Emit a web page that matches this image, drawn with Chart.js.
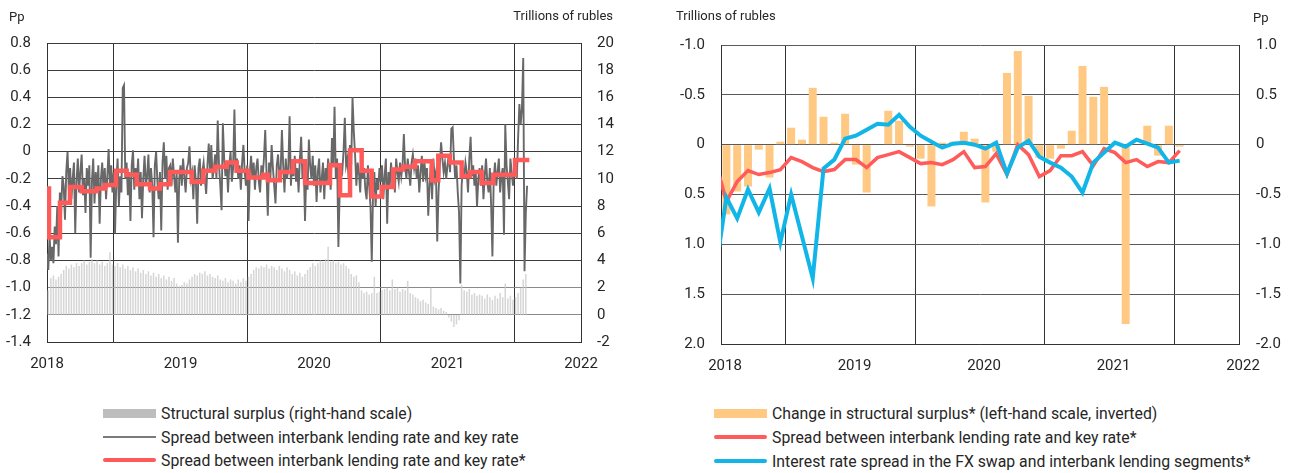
<!DOCTYPE html>
<html>
<head>
<meta charset="utf-8">
<script src="https://cdn.jsdelivr.net/npm/chart.js@4.4.1/dist/chart.umd.min.js"></script>
<style>
  body { margin: 0; background: #fff; width: 1296px; height: 473px; overflow: hidden; position: relative;
         font-family: Roboto, 'Open Sans', sans-serif; color: #262626; }
  .box { position: absolute; top: 0; width: 648px; height: 380px; }
  .unit { position: absolute; font-size: 13px; line-height: 16px; white-space: nowrap; }
  .legend { position: absolute; font-size: 15.8px; }
  .legend .row { position: absolute; left: 0; display: flex; align-items: center; height: 20px; white-space: nowrap; }
  .legend .sw { width: 53px; margin-right: 5px; }
</style>
</head>
<body>
<div class="box" style="left:0"><canvas id="left" width="648" height="380"></canvas></div>
<div class="box" style="left:648px"><canvas id="right" width="648" height="380"></canvas></div>

<div class="unit" style="left:9px;top:9px">Pp</div>
<div class="unit" style="right:683px;top:8px">Trillions of rubles</div>
<div class="unit" style="left:676px;top:8px">Trillions of rubles</div>
<div class="unit" style="left:1253px;top:10px">Pp</div>

<div class="legend" style="left:103px;top:0">
  <div class="row" style="top:403px"><span class="sw" style="height:9px;background:#bdbdbd"></span>Structural surplus (right-hand scale)</div>
  <div class="row" style="top:427px"><span class="sw" style="height:2px;background:#7a7a7a"></span>Spread between interbank lending rate and key rate</div>
  <div class="row" style="top:450px"><span class="sw" style="height:4px;background:#ff5a5a;border-radius:2px"></span>Spread between interbank lending rate and key rate*</div>
</div>
<div class="legend" style="left:714px;top:0">
  <div class="row" style="top:403px"><span class="sw" style="height:9px;background:#ffc983"></span>Change in structural surplus* (left-hand scale, inverted)</div>
  <div class="row" style="top:427px"><span class="sw" style="height:4px;background:#ff5b5b;border-radius:2px"></span>Spread between interbank lending rate and key rate*</div>
  <div class="row" style="top:451px"><span class="sw" style="height:4px;background:#12b5e8;border-radius:2px"></span>Interest rate spread in the FX swap and interbank lending segments*</div>
</div>

<script>
// ---- left panel data ----
// interbank spread, pp, sampled every 1/104 year from 2018.0
const SPREAD_START = 2018, SPREAD_STEP = 1 / 104;
const spreadDaily = [
  -0.75, -0.87, -0.62, -0.80, -0.70, -0.82, -0.55, -0.68, -0.40, -0.77, -0.30, -0.45, -0.18, -0.25, -0.50, -0.15, 0.00, -0.28, -0.12, -0.35, -0.20, -0.08, -0.60, -0.22, -0.05, -0.30,
  -0.15, -0.02, -0.32, -0.20, -0.45, -0.12, -0.25, -0.10, -0.78, -0.22, -0.05, -0.38, -0.15, -0.30, -0.10, -0.53, -0.20, -0.08, -0.28, -0.12, -0.35, -0.18, 0.02, -0.25, -0.10, -0.30,
  -0.15, -0.60, -0.22, -0.05, -0.40, -0.18, -0.30, 0.47, 0.49, -0.20, -0.08, -0.32, -0.15, -0.51, -0.10, 0.01, -0.28, -0.12, -0.22, -0.05, -0.35, -0.15, -0.49, -0.20, -0.03, -0.25,
  -0.18, -0.02, -0.30, -0.12, -0.25, -0.63, -0.10, 0.00, -0.22, -0.35, -0.15, -0.58, -0.08, 0.07, -0.20, -0.03, -0.28, -0.12, -0.10, -0.25, -0.05, -0.18, -0.30, -0.15, -0.67, -0.20,
  -0.10, -0.25, -0.05, -0.18, -0.30, -0.12, -0.08, 0.04, -0.20, -0.15, -0.35, -0.10, -0.22, -0.53, -0.12, -0.05, -0.25, -0.15, -0.08, -0.20, -0.31, -0.10, 0.06, -0.15, 0.05, -0.20,
  -0.12, -0.02, -0.20, 0.23, -0.10, -0.25, -0.43, 0.21, -0.05, -0.18, -0.08, -0.30, -0.10, 0.00, -0.22, -0.12, 0.31, -0.15, -0.05, -0.20, -0.10, -0.28, -0.08, 0.05, -0.15, -0.25,
  -0.10, -0.51, -0.15, -0.03, -0.20, -0.08, -0.28, -0.12, -0.05, -0.22, -0.30, -0.10, -0.18, -0.05, 0.16, -0.15, -0.47, -0.08, -0.20, 0.05, -0.12, -0.25, -0.38, -0.10, -0.02, -0.18,
  -0.15, 0.16, -0.10, -0.30, -0.05, -0.20, -0.12, 0.26, -0.25, -0.08, -0.18, -0.03, -0.22, -0.12, -0.30, -0.05, 0.11, -0.20, -0.10, -0.51, -0.15, -0.28, 0.09, -0.10, -0.20, -0.03,
  -0.25, -0.10, -0.37, -0.15, -0.05, -0.30, -0.20, -0.08, -0.35, -0.12, -0.22, -0.05, -0.15, -0.28, 0.10, -0.10, 0.33, -0.20, -0.05, -0.70, -0.30, -0.12, -0.15, 0.00, 0.25, -0.10,
  -0.05, -0.20, 0.05, -0.10, 0.40, 0.15, -0.02, -0.25, -0.08, -0.15, -0.30, -0.05, -0.20, -0.12, -0.28, -0.35, -0.10, -0.25, -0.40, -0.81, -0.30, -0.15, -0.40, -0.20, -0.28, -0.12,
  -0.22, -0.10, -0.35, -0.18, -0.05, -0.53, -0.15, -0.25, -0.08, -0.20, -0.12, -0.30, -0.05, -0.15, -0.22, -0.08, -0.18, -0.10, 0.13, -0.12, -0.20, -0.05, -0.15, -0.25, -0.08, -0.02,
  -0.12, -0.05, -0.20, -0.10, -0.30, -0.15, -0.03, -0.22, -0.08, -0.18, -0.12, -0.47, -0.25, -0.10, -0.35, -0.05, -0.20, -0.15, -0.66, -0.30, -0.10, 0.07, -0.05, -0.15, -0.08, -0.20,
  -0.10, -0.02, -0.15, 0.17, 0.18, -0.05, -0.20, -0.10, -0.30, -0.45, -0.97, -0.25, -0.12, -0.20, -0.08, -0.15, -0.30, -0.05, 0.11, -0.18, -0.10, -0.25, -0.15, -0.40, -0.20, -0.12,
  -0.25, -0.10, -0.35, -0.18, -0.05, -0.22, -0.30, -0.12, -0.40, -0.77, -0.20, -0.08, -0.25, -0.15, -0.05, -0.30, -0.18, -0.12, -0.61, 0.20, -0.10, -0.22, -0.35, -0.05, -0.15, -0.25,
  -0.12, -0.05, -0.20, 0.10, 0.35, 0.20, 0.32, 0.69, -0.88, -0.45, -0.25
];

// structural surplus, trillion rubles, weekly from 2018.0
const SURPLUS_STEP = 1 / 52;
const surplus = [
  1.8, 2.7, 2.9, 2.6, 2.8, 3.0, 3.3, 3.6, 3.4, 3.7, 3.5, 3.8, 3.6,
  3.8, 4.0, 3.7, 3.9, 4.1, 3.8, 4.0, 3.7, 3.9, 3.6, 3.8, 4.6, 3.7,
  3.6, 3.8, 3.5, 3.7, 3.4, 3.6, 3.3, 3.5, 3.2, 3.4, 3.1, 3.3, 3.0,
  3.2, 2.9, 3.1, 2.8, 3.0, 2.7, 2.9, 2.6, 2.8, 2.5, 2.7, 2.3, 2.1,
  2.2, 2.4, 2.3, 2.6, 2.8, 3.0, 2.9, 3.1, 3.0, 3.2, 2.9, 3.0, 2.8,
  2.7, 2.9, 2.6, 2.5, 2.7, 2.4, 2.6, 2.5, 2.3, 2.6, 2.4, 2.7, 2.5,
  2.8, 3.0, 3.3, 3.5, 3.4, 3.6, 3.5, 3.7, 3.4, 3.6, 3.5, 3.3, 3.6,
  3.4, 3.2, 3.5, 3.3, 3.0, 3.2, 2.9, 3.1, 2.8, 3.0, 3.3, 3.5, 3.8,
  3.6, 3.8, 4.0, 3.9, 4.1, 5.0, 3.9, 4.0, 3.8, 3.9, 3.7, 3.8, 3.6,
  3.4, 3.0, 2.8, 2.9, 2.4, 1.8, 1.6, 1.7, 1.5, 1.6, 2.8, 1.6, 1.7,
  1.8, 1.9, 2.0, 1.8, 2.6, 1.9, 2.0, 1.7, 1.9, 1.8, 2.5, 1.6, 1.5,
  1.3, 1.2, 1.0, 1.1, 0.9, 0.8, 2.0, 0.6, 0.5, 0.4, 0.5, 0.3, 0.2,
  -0.2, -0.5, -0.9, -0.7, -0.4, 2.2, 1.8, 1.7, 1.9, 1.5, 1.6, 1.4, 1.5,
  1.4, 1.2, 1.5, 1.3, 1.1, 1.4, 1.2, 1.6, 1.3, 2.3, 1.2, 1.4, 1.1,
  1.3, 1.6, 2.0, 2.6, 3.0
];

// smoothed spread (step line): change dates (decimal years) and values
const keyStepDates = [2018.0, 2018.015, 2018.097, 2018.172, 2018.26, 2018.372, 2018.434, 2018.517, 2018.597, 2018.672,
  2018.772, 2018.846, 2018.921, 2019.084, 2019.171, 2019.258, 2019.346, 2019.421, 2019.508, 2019.62,
  2019.655, 2019.745, 2019.843, 2019.933, 2020.12, 2020.195, 2020.27, 2020.357, 2020.432, 2020.507,
  2020.594, 2020.667, 2020.757, 2020.882, 2020.931, 2021.019, 2021.106, 2021.169, 2021.256, 2021.343,
  2021.506, 2021.613];
const keyStepValues = [-0.27, -0.63, -0.375, -0.26, -0.29, -0.27, -0.245, -0.14, -0.17, -0.24,
  -0.27, -0.24, -0.15, -0.22, -0.14, -0.11, -0.08, -0.14, -0.19, -0.17,
  -0.21, -0.15, -0.07, -0.23, -0.10, -0.32, 0.01, -0.14, -0.33, -0.26,
  -0.13, -0.11, -0.07, -0.21, -0.03, -0.08, -0.18, -0.15, -0.23, -0.17,
  -0.06, -0.06];

// ---- right panel data (monthly) ----
const months = ['2017-12',
  '2018-01','2018-02','2018-03','2018-04','2018-05','2018-06','2018-07','2018-08','2018-09','2018-10','2018-11','2018-12',
  '2019-01','2019-02','2019-03','2019-04','2019-05','2019-06','2019-07','2019-08','2019-09','2019-10','2019-11','2019-12',
  '2020-01','2020-02','2020-03','2020-04','2020-05','2020-06','2020-07','2020-08','2020-09','2020-10','2020-11','2020-12',
  '2021-01','2021-02','2021-03','2021-04','2021-05','2021-06','2021-07'];
// change in structural surplus, trillion rubles (from 2018-01)
const surplusChange = [
  0.70, 0.47, 0.42, 0.05, 0.33, -0.03, -0.17, -0.05, -0.57, -0.28, -0.02, -0.31,
  0.20, 0.48, 0.00, -0.34, -0.24, 0.02, 0.14, 0.62, -0.02, -0.03, -0.13, -0.06,
  0.58, 0.07, -0.72, -0.94, -0.49, 0.13, 0.14, 0.04, -0.14, -0.79, -0.48, -0.58,
  0.00, 1.80, 0.00, -0.19, 0.11, -0.19, 0.02];
// pp (from 2017-12)
const spreadMonthly = [-0.17,
  -0.57, -0.37, -0.26, -0.30, -0.28, -0.25, -0.13, -0.17, -0.23, -0.27, -0.25, -0.15,
  -0.15, -0.23, -0.13, -0.10, -0.07, -0.13, -0.19, -0.18, -0.20, -0.15, -0.07, -0.23,
  -0.22, -0.09, -0.30, 0.00, -0.10, -0.32, -0.26, -0.11, -0.11, -0.07, -0.21, -0.04,
  -0.08, -0.18, -0.15, -0.22, -0.17, -0.18, -0.06];
const swapSpread = [-1.27,
  -0.53, -0.74, -0.45, -0.68, -0.44, -0.98, -0.50, -0.92, -1.34, -0.24, -0.15, 0.06,
  0.09, 0.15, 0.21, 0.20, 0.30, 0.18, 0.09, 0.03, -0.03, 0.01, 0.02, 0.00,
  -0.04, 0.02, -0.29, -0.03, 0.04, -0.12, -0.18, -0.23, -0.32, -0.48, -0.18, -0.08,
  0.02, -0.02, 0.05, 0.01, -0.03, -0.18, -0.16];

const FONT = { family: "Roboto, 'Open Sans', sans-serif", size: 15 };
const TXT = '#262626';
const fmt1 = v => Math.abs(v) < 1e-9 ? '0' : v.toFixed(1);
const monthX = m => { const [y, mo] = m.split('-').map(Number); return y + (mo - 0.5) / 12; };

function xAxis(h, labelOffset) {
  return {
    type: 'linear', min: 2018, max: 2022, offset: false,
    ticks: { stepSize: 1, callback: v => String(v), color: TXT, font: FONT, padding: 13,
      maxRotation: 0, autoSkip: false, labelOffset: labelOffset || 0 },
    grid: { color: '#333', lineWidth: 1, drawTicks: false },
    border: { color: '#333', width: 1 },
    afterFit: s => { s.height = h; }
  };
}

// left chart
new Chart(document.getElementById('left'), {
  type: 'line',
  data: { datasets: [
    { type: 'bar', yAxisID: 'y2', order: 3,
      data: surplus.map((v, i) => ({ x: SPREAD_START + (i + 0.5) * SURPLUS_STEP, y: v })),
      backgroundColor: 'rgba(200,200,200,0.75)', barPercentage: 0.6, categoryPercentage: 1 },
    { yAxisID: 'y', order: 2,
      data: spreadDaily.map((v, i) => ({ x: SPREAD_START + i * SPREAD_STEP, y: v })),
      borderColor: '#686868', borderWidth: 1.9, pointRadius: 0, tension: 0 },
    { yAxisID: 'y', order: 1,
      data: keyStepDates.map((d, i) => ({ x: d, y: keyStepValues[i] })),
      borderColor: '#ff5a5a', borderWidth: 4.5, pointRadius: 0, stepped: true, borderJoinStyle: 'miter' }
  ]},
  options: {
    responsive: false, animation: false,
    plugins: { legend: { display: false }, tooltip: { enabled: false } },
    layout: { padding: { top: 43, left: 0, right: 0, bottom: 0 } },
    scales: {
      x: xAxis(38, 0),
      y: { position: 'left', min: -1.4, max: 0.8,
        ticks: { stepSize: 0.2, callback: fmt1, color: TXT, font: FONT, padding: 16 },
        grid: { drawTicks: false, lineWidth: 1,
          color: c => (Math.abs(c.tick.value + 1.0) < 1e-6 || Math.abs(c.tick.value + 1.2) < 1e-6) ? '#8a8a8a' : '#3d3d3d' },
        border: { color: '#333', width: 1 },
        afterFit: s => { s.width = 47; } },
      y2: { position: 'right', min: -2, max: 20,
        ticks: { stepSize: 2, callback: v => String(Math.round(v)), color: TXT, font: FONT, padding: 16 },
        grid: { display: false, drawTicks: false },
        border: { color: '#333', width: 1 },
        afterFit: s => { s.width = 67; } }
    }
  }
});

// right chart
new Chart(document.getElementById('right'), {
  type: 'line',
  data: { datasets: [
    { type: 'bar', yAxisID: 'yl', order: 3,
      data: surplusChange.map((v, i) => ({ x: monthX(months[i + 1]), y: v })),
      backgroundColor: '#ffc983', barPercentage: 0.74, categoryPercentage: 1 },
    { yAxisID: 'yr', order: 2, clip: 0,
      data: spreadMonthly.map((v, i) => ({ x: monthX(months[i]), y: v })),
      borderColor: '#ff5b5b', borderWidth: 3.5, pointRadius: 0, tension: 0 },
    { yAxisID: 'yr', order: 1, clip: 0,
      data: swapSpread.map((v, i) => ({ x: monthX(months[i]), y: v })),
      borderColor: '#12b5e8', borderWidth: 4, pointRadius: 0, tension: 0 }
  ]},
  options: {
    responsive: false, animation: false,
    plugins: { legend: { display: false }, tooltip: { enabled: false } },
    layout: { padding: { top: 45, left: 0, right: 0, bottom: 0 } },
    scales: {
      x: xAxis(36, 4),
      yl: { position: 'left', min: -1.0, max: 2.0, reverse: true,
        ticks: { stepSize: 0.5, callback: fmt1, color: TXT, font: FONT, padding: 16 },
        grid: { drawTicks: false, color: '#5a5a5a', lineWidth: 1 },
        border: { color: '#333', width: 1 },
        afterFit: s => { s.width = 73; } },
      yr: { position: 'right', min: -2.0, max: 1.0,
        ticks: { stepSize: 0.5, callback: fmt1, color: TXT, font: FONT, padding: 17 },
        grid: { display: false, drawTicks: false },
        border: { color: '#333', width: 1 },
        afterFit: s => { s.width = 57; } }
    }
  }
});
</script>
</body>
</html>
